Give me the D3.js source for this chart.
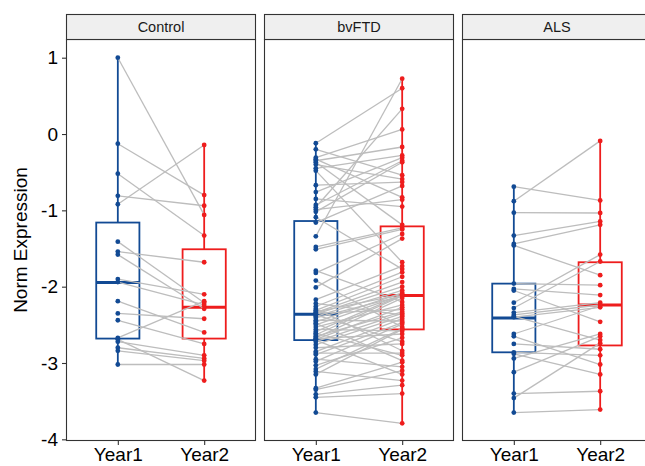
<!DOCTYPE html>
<html>
<head>
<meta charset="utf-8">
<script src="https://cdn.jsdelivr.net/npm/d3@7"></script>
<style>
  html, body { margin: 0; padding: 0; background: #fff; }
  svg { display: block; font-family: "Liberation Sans", Arial, sans-serif; }
</style>
</head>
<body>
<svg id="chart" width="645" height="466"></svg>
<script>
// ---------------- data ----------------
const panels = ["Control", "bvFTD", "ALS"];
const timepoints = ["Year1", "Year2"];
const yTicks = [1, 0, -1, -2, -3, -4];

// paired values: index i in Year1 and Year2 is the same subject
const controlYear1 = [1.00, -0.127, -0.52, -0.81, -0.92, -1.41, -1.54, -1.58, -1.90, -1.94,
  -2.19, -2.35, -2.44, -2.67, -2.69, -2.72, -2.80, -2.84, -3.02];
const controlYear2 = [-1.06, -0.80, -1.33, -0.94, -0.144, -2.21, -1.68, -2.29, -2.10, -2.24,
  -2.60, -2.42, -2.75, -2.19, -3.23, -2.90, -2.94, -2.97, -3.02];

const bvftdYear1 = [-0.12, -0.20, -0.31, -0.33, -0.35, -0.37, -0.40, -0.45, -0.48, -0.67,
  -0.76, -0.85, -0.93, -0.96, -0.99, -1.02, -1.09, -1.16, -1.34, -1.48,
  -1.51, -1.79, -1.82, -1.92, -2.01, -2.17, -2.22, -2.26, -2.29, -2.31,
  -2.33, -2.34, -2.35, -2.36, -2.37, -2.39, -2.41, -2.44, -2.46, -2.48,
  -2.50, -2.53, -2.56, -2.59, -2.61, -2.63, -2.65, -2.67, -2.68, -2.69,
  -2.70, -2.72, -2.76, -2.80, -2.85, -2.87, -2.89, -2.95, -2.98, -3.03,
  -3.08, -3.11, -3.15, -3.33, -3.35, -3.41, -3.45, -3.65];
const bvftdYear2 = [0.60, -0.54, 0.06, -0.83, -0.17, -1.19, -0.59, -0.28, -1.68, -0.63,
  -0.31, -0.95, -0.35, 0.33, -0.86, -0.37, -1.77, -0.68, 0.725, -1.23,
  -1.25, -2.20, -1.31, -2.53, -1.37, -1.73, -2.37, -1.81, -2.84, -1.87,
  -2.10, -1.94, -2.30, -2.00, -2.72, -2.05, -2.12, -2.45, -2.08, -2.97,
  -2.11, -2.24, -2.58, -2.11, -2.90, -2.12, -2.33, -2.15, -2.62, -2.27,
  -3.15, -2.35, -2.39, -2.75, -2.42, -2.87, -2.47, -3.05, -2.49, -2.67,
  -2.55, -3.23, -2.56, -2.99, -3.10, -3.29, -3.40, -3.79];

const alsYear1 = [-0.69, -0.88, -1.03, -1.33, -1.44, -1.46, -1.96, -2.03, -2.05, -2.21,
  -2.28, -2.34, -2.37, -2.39, -2.40, -2.62, -2.65, -2.75, -2.86, -2.88,
  -2.94, -3.12, -3.40, -3.46, -3.65];
const alsYear2 = [-0.87, -0.09, -1.035, -1.145, -1.19, -1.85, -1.98, -2.11, -2.46, -1.58,
  -1.67, -2.21, -2.24, -2.70, -2.27, -2.25, -3.02, -2.82, -2.90, -3.15,
  -2.62, -2.65, -3.37, -2.74, -3.61];

// box summaries: [lower whisker, Q1, median, Q3, upper whisker]
const controlBoxes = [[-3.02, -2.68, -1.945, -1.16, 1.00], [-3.23, -2.68, -2.27, -1.51, -0.144]];
const bvftdBoxes   = [[-3.65, -2.70, -2.36, -1.14, -0.12], [-3.79, -2.56, -2.115, -1.21, 0.725]];
const alsBoxes     = [[-3.65, -2.86, -2.41, -1.96, -0.69], [-3.61, -2.77, -2.24, -1.68, -0.09]];

// ---------------- build ----------------
const panelData = [
  { name: panels[0], y1: controlYear1, y2: controlYear2, boxes: controlBoxes },
  { name: panels[1], y1: bvftdYear1,   y2: bvftdYear2,   boxes: bvftdBoxes },
  { name: panels[2], y1: alsYear1,     y2: alsYear2,     boxes: alsBoxes }
];

const colors = d3.scaleOrdinal().domain(timepoints).range(["#124A94", "#EE1D1D"]);
const svg = d3.select("#chart");

const plotTop = 39, plotBottom = 441;
const stripTop = 14;
const panelW = 190, panelGap = 8, firstX = 66;

const y = d3.scaleLinear().domain([-4.022, 1.245]).range([plotBottom, plotTop]);

panelData.forEach((p, i) => {
  const x0 = firstX + i * (panelW + panelGap);
  const x = d3.scalePoint().domain(timepoints).range([x0, x0 + panelW]).padding(0.6);
  const step = x.step();
  const halfBox = step * 0.25;
  const g = svg.append("g");

  // panel background
  g.append("rect").attr("x", x0).attr("y", plotTop).attr("width", panelW)
    .attr("height", plotBottom - plotTop).attr("fill", "#fff");

  // boxplots
  timepoints.forEach((t, k) => {
    const b = p.boxes[k];
    const cx = x(t);
    const col = colors(t);
    g.append("line").attr("x1", cx).attr("x2", cx).attr("y1", y(b[4])).attr("y2", y(b[3]))
      .attr("stroke", col).attr("stroke-width", 1.8);
    g.append("line").attr("x1", cx).attr("x2", cx).attr("y1", y(b[1])).attr("y2", y(b[0]))
      .attr("stroke", col).attr("stroke-width", 1.8);
    g.append("rect").attr("x", cx - halfBox).attr("y", y(b[3]))
      .attr("width", halfBox * 2).attr("height", y(b[1]) - y(b[3]))
      .attr("fill", "none").attr("stroke", col).attr("stroke-width", 1.8);
    g.append("line").attr("x1", cx - halfBox).attr("x2", cx + halfBox)
      .attr("y1", y(b[2])).attr("y2", y(b[2]))
      .attr("stroke", col).attr("stroke-width", 3);
  });

  // paired lines
  const pairs = p.y1.map((v, j) => [v, p.y2[j]]);
  g.selectAll("line.pair").data(pairs).join("line").attr("class", "pair")
    .attr("x1", x("Year1")).attr("x2", x("Year2"))
    .attr("y1", d => y(d[0])).attr("y2", d => y(d[1]))
    .attr("stroke", "#BDBDBD").attr("stroke-width", 1.3);

  // points
  [p.y1, p.y2].forEach((vals, k) => {
    const t = timepoints[k];
    g.selectAll("circle.p" + k).data(vals).join("circle").attr("class", "p" + k)
      .attr("cx", x(t)).attr("cy", d => y(d)).attr("r", 2.4)
      .attr("fill", colors(t));
  });

  // panel border
  g.append("rect").attr("x", x0 + 0.5).attr("y", plotTop + 0.5).attr("width", panelW - 1)
    .attr("height", plotBottom - plotTop - 1).attr("fill", "none")
    .attr("stroke", "#333").attr("stroke-width", 1.1);

  // strip
  g.append("rect").attr("x", x0 + 0.5).attr("y", stripTop + 0.5).attr("width", panelW - 1)
    .attr("height", plotTop - stripTop).attr("fill", "#EFEFEF")
    .attr("stroke", "#333").attr("stroke-width", 1.1);
  g.append("text").attr("x", x0 + panelW / 2).attr("y", (stripTop + plotTop) / 2 + 5)
    .attr("text-anchor", "middle").attr("font-size", 14.5).attr("fill", "#1a1a1a")
    .text(p.name);

  // x axis ticks and labels
  const xAxis = d3.axisBottom(x).tickSize(4).tickPadding(3);
  const ax = g.append("g").attr("transform", `translate(0,${plotBottom})`).call(xAxis);
  ax.select(".domain").remove();
  ax.selectAll(".tick line").attr("stroke", "#333").attr("stroke-width", 1.1);
  ax.selectAll(".tick text").attr("font-size", 19).attr("fill", "#000")
    .attr("font-family", '"Liberation Sans", Arial, sans-serif');
});

// y axis
const yAxis = d3.axisLeft(y).tickValues(yTicks).tickSize(4).tickPadding(4)
  .tickFormat(d => String(d));
const ay = svg.append("g").attr("transform", `translate(${firstX},0)`).call(yAxis);
ay.select(".domain").remove();
ay.selectAll(".tick line").attr("stroke", "#333").attr("stroke-width", 1.1);
ay.selectAll(".tick text").attr("font-size", 19).attr("fill", "#000")
  .attr("font-family", '"Liberation Sans", Arial, sans-serif');

// y title
svg.append("text")
  .attr("transform", `translate(27,${(plotTop + plotBottom) / 2}) rotate(-90)`)
  .attr("text-anchor", "middle").attr("font-size", 19).attr("fill", "#000")
  .text("Norm Expression");
</script>
</body>
</html>
